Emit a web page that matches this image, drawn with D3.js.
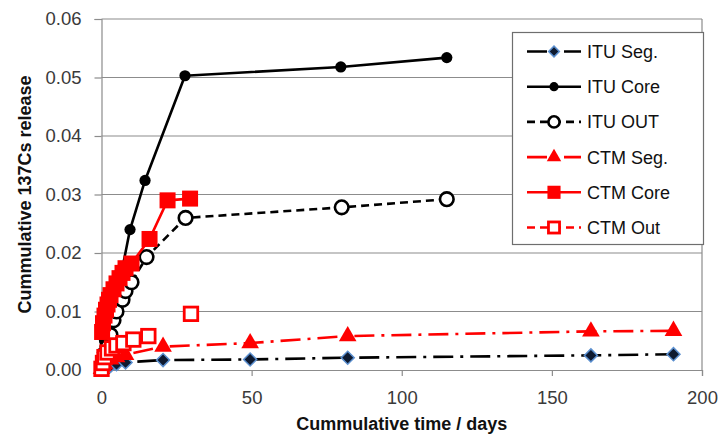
<!DOCTYPE html>
<html>
<head>
<meta charset="utf-8">
<script src="https://cdn.jsdelivr.net/npm/d3@7"></script>
<style>
  html, body { margin: 0; padding: 0; background: #fff; }
  svg { display: block; font-family: "Liberation Sans", Arial, sans-serif; }
</style>
</head>
<body>
<svg id="chart" width="719" height="435"></svg>
<script>
// ---- data ----
const xTicks = [0, 50, 100, 150, 200];
const yTicks = [0, 0.01, 0.02, 0.03, 0.04, 0.05, 0.06];

const ituSegDays   = [0, 1, 3, 5, 8, 20.5, 49.5, 82, 163, 190.5];
const ituSegVals   = [0.0001, 0.0004, 0.0007, 0.001, 0.0013, 0.0017, 0.0018, 0.0021, 0.0025, 0.0027];

const ituCoreDays  = [0.3, 1, 2, 3, 4, 5, 6, 7, 9.5, 14.5, 27.8, 79.7, 115];
const ituCoreVals  = [0.003, 0.005, 0.0085, 0.011, 0.013, 0.0148, 0.0165, 0.0175, 0.024, 0.0324, 0.0503, 0.0518, 0.0534];

const ituOutDays   = [0.3, 1, 2, 3, 4, 5, 7, 8, 10, 15, 28, 80, 115];
const ituOutVals   = [0.0005, 0.002, 0.004, 0.006, 0.0085, 0.010, 0.012, 0.0135, 0.015, 0.0193, 0.026, 0.0278, 0.0292];

const ctmSegDays   = [0, 1, 3, 5, 8, 20.5, 49.5, 82, 163, 190.5];
const ctmSegVals   = [0.0002, 0.001, 0.0018, 0.0022, 0.0026, 0.0040, 0.0046, 0.0058, 0.0066, 0.0067];

const ctmCoreDays  = [0.2, 0.5, 1, 1.5, 2, 2.5, 3, 4, 5, 6, 7, 8, 10, 16, 22, 29.5];
const ctmCoreVals  = [0.0065, 0.008, 0.0093, 0.0103, 0.0112, 0.012, 0.0128, 0.0138, 0.0148, 0.0157, 0.0166, 0.0174, 0.0182, 0.0224, 0.029, 0.0293];

const ctmOutDays   = [0, 0.5, 1, 2, 3.5, 5, 7.3, 10.6, 15.6, 22, 29.8];
const ctmOutVals   = [0.0002, 0.0012, 0.0022, 0.003, 0.0037, 0.0042, 0.0046, 0.0052, 0.0058, null, 0.0096];

const seriesNames  = ["ITU Seg.", "ITU Core", "ITU OUT", "CTM Seg.", "CTM Core", "CTM Out"];

// ---- layout ----
const svg = d3.select("#chart");
const m = { left: 101.5, right: 702, top: 19, bottom: 370 };
const x = d3.scaleLinear().domain([0, 200]).range([m.left, m.right]);
const y = d3.scaleLinear().domain([0, 0.06]).range([m.bottom, m.top]);
const gridColor = "#8c8c8c";
const textColor = "#3a3a3a";

// gridlines
svg.append("g").selectAll("line").data(yTicks.slice(1)).join("line")
  .attr("x1", m.left).attr("x2", m.right)
  .attr("y1", d => y(d)).attr("y2", d => y(d))
  .attr("stroke", gridColor).attr("stroke-width", 1.2);
// right border
svg.append("line").attr("x1", m.right).attr("x2", m.right).attr("y1", m.top).attr("y2", m.bottom)
  .attr("stroke", gridColor).attr("stroke-width", 1.2);

// axes
const yAxis = d3.axisLeft(y).tickValues(yTicks).tickFormat(d3.format(".2f")).tickSize(7).tickPadding(13);
const xAxis = d3.axisBottom(x).tickValues(xTicks).tickFormat(d3.format("d")).tickSize(6).tickPadding(15);
const gy = svg.append("g").attr("transform", `translate(${m.left},0)`).call(yAxis);
const gx = svg.append("g").attr("transform", `translate(0,${m.bottom})`).call(xAxis);
[gx, gy].forEach(g => {
  g.select(".domain").attr("stroke", gridColor).attr("stroke-width", 1.2);
  g.selectAll(".tick line").attr("stroke", gridColor).attr("stroke-width", 1.2);
  g.selectAll("text").attr("fill", textColor).style("font-size", "18.5px")
    .style("font-family", "'Liberation Sans', Arial, sans-serif");
});

// axis titles
svg.append("text").attr("x", (m.left + m.right) / 2).attr("y", 430)
  .attr("text-anchor", "middle").attr("font-weight", "bold").attr("font-size", "18px")
  .attr("fill", "#111").text("Cummulative time / days");
svg.append("text").attr("transform", `translate(31,${(m.top + m.bottom) / 2}) rotate(-90)`)
  .attr("text-anchor", "middle").attr("font-weight", "bold").attr("font-size", "18px")
  .attr("fill", "#111").text("Cummulative 137Cs release");

// ---- series ----
const RED = "#ff0000", BLK = "#000000";
const dashDot = "20,7,3,7", dashed = "8,5";
const series = [
  { name: seriesNames[0], days: ituSegDays,  vals: ituSegVals,  color: BLK, dash: dashDot, mk: "diamond" },
  { name: seriesNames[1], days: ituCoreDays, vals: ituCoreVals, color: BLK, dash: null,    mk: "dot" },
  { name: seriesNames[2], days: ituOutDays,  vals: ituOutVals,  color: BLK, dash: dashed,  mk: "ocircle" },
  { name: seriesNames[3], days: ctmSegDays,  vals: ctmSegVals,  color: RED, dash: dashDot, mk: "triangle" },
  { name: seriesNames[4], days: ctmCoreDays, vals: ctmCoreVals, color: RED, dash: null,    mk: "square" },
  { name: seriesNames[5], days: ctmOutDays,  vals: ctmOutVals,  color: RED, dash: dashed,  mk: "osquare" }
];

function drawMarker(g, kind, color, px, py, scale) {
  const s = scale || 1;
  if (kind === "diamond") {
    g.append("path").attr("d", d3.symbol(d3.symbolSquare, 85 * s * s)())
      .attr("transform", `translate(${px},${py}) rotate(45)`)
      .attr("fill", "#0e1a30").attr("stroke", "#5b8fcf").attr("stroke-width", 1.5);
  } else if (kind === "dot") {
    g.append("circle").attr("cx", px).attr("cy", py).attr("r", 5.6 * s).attr("fill", color);
  } else if (kind === "ocircle") {
    g.append("circle").attr("cx", px).attr("cy", py).attr("r", 6.8 * s)
      .attr("fill", "#fff").attr("stroke", color).attr("stroke-width", 2.6);
  } else if (kind === "triangle") {
    g.append("path").attr("d", d3.symbol(d3.symbolTriangle, 135 * s * s)())
      .attr("transform", `translate(${px},${py})`).attr("fill", color);
  } else if (kind === "square") {
    const a = 16 * s;
    g.append("rect").attr("x", px - a / 2).attr("y", py - a / 2).attr("width", a).attr("height", a)
      .attr("fill", color);
  } else if (kind === "osquare") {
    const a = 13.5 * s;
    g.append("rect").attr("x", px - a / 2).attr("y", py - a / 2).attr("width", a).attr("height", a)
      .attr("fill", "#fff").attr("stroke", color).attr("stroke-width", 2.8);
  }
}

const plot = svg.append("g");
series.forEach(s => {
  const pts = s.days.map((d, i) => ({ d, v: s.vals[i] }));
  const line = d3.line().defined(p => p.v != null).x(p => x(p.d)).y(p => y(p.v));
  const g = plot.append("g");
  g.append("path").attr("d", line(pts)).attr("fill", "none")
    .attr("stroke", s.color).attr("stroke-width", 2.6)
    .attr("stroke-dasharray", s.dash).attr("stroke-linejoin", "round");
  pts.filter(p => p.v != null).forEach(p => drawMarker(g, s.mk, s.color, x(p.d), y(p.v), 1));
});

// ---- legend ----
const lg = svg.append("g");
lg.append("rect").attr("x", 512.5).attr("y", 32.5).attr("width", 191).attr("height", 212)
  .attr("fill", "#fff").attr("stroke", "#6e6e6e").attr("stroke-width", 1.2);
series.forEach((s, i) => {
  const cy = 51.5 + i * 35.2;
  lg.append("line").attr("x1", 527).attr("x2", 581).attr("y1", cy).attr("y2", cy)
    .attr("stroke", s.color).attr("stroke-width", 2.6).attr("stroke-dasharray", s.dash);
  drawMarker(lg, s.mk, s.color, 554, cy, 0.82);
  lg.append("text").attr("x", 587).attr("y", cy).attr("dy", "0.36em")
    .attr("font-size", "18px").attr("fill", "#111").text(s.name);
});
</script>
</body>
</html>
